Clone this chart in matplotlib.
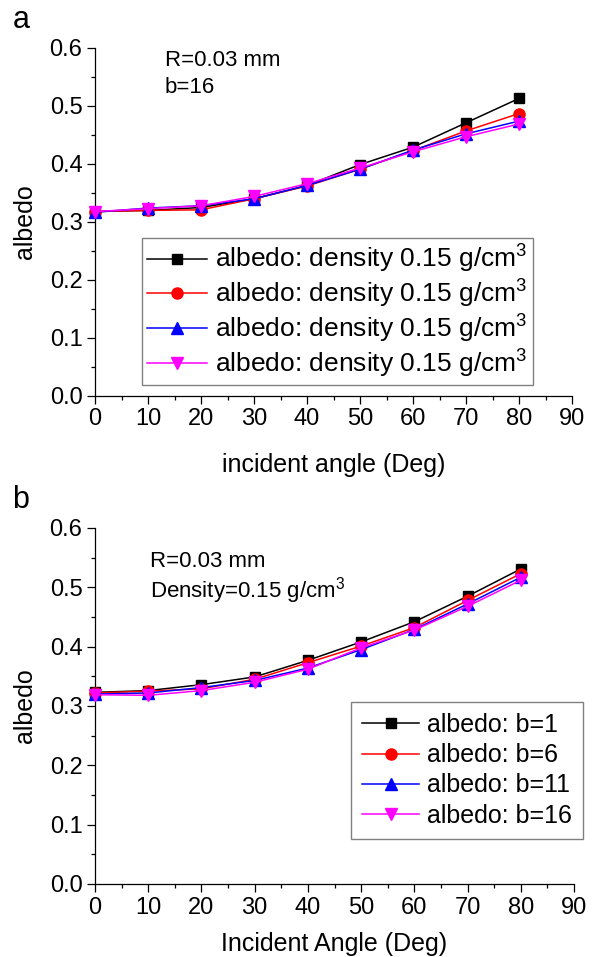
import numpy as np
import matplotlib
matplotlib.use("Agg")
import matplotlib.pyplot as plt
from matplotlib.ticker import MultipleLocator, FormatStrFormatter

plt.rcParams['font.family'] = ['Liberation Sans', 'DejaVu Sans']
plt.rcParams['mathtext.fontset'] = 'custom'
plt.rcParams['mathtext.rm'] = 'Liberation Sans'
plt.rcParams['mathtext.default'] = 'regular'

angles = [0, 10, 20, 30, 40, 50, 60, 70, 80]

# panel a: four runs, same density label
a_black = [0.318, 0.320, 0.325, 0.340, 0.363, 0.399, 0.429, 0.471, 0.513]
a_red = [0.318, 0.320, 0.321, 0.340, 0.362, 0.391, 0.423, 0.457, 0.487]
a_blue = [0.317, 0.324, 0.328, 0.340, 0.363, 0.391, 0.424, 0.452, 0.474]
a_magenta = [0.318, 0.323, 0.328, 0.344, 0.366, 0.393, 0.421, 0.447, 0.469]
a_labels = ['albedo: density 0.15 g/cm$^3$'] * 4

# panel b: different b values
b_b1 = [0.323, 0.326, 0.336, 0.349, 0.377, 0.408, 0.442, 0.485, 0.531]
b_b6 = [0.322, 0.325, 0.329, 0.345, 0.373, 0.401, 0.432, 0.478, 0.523]
b_b11 = [0.320, 0.322, 0.331, 0.343, 0.364, 0.395, 0.429, 0.472, 0.517]
b_b16 = [0.319, 0.318, 0.326, 0.340, 0.362, 0.398, 0.428, 0.468, 0.512]
b_labels = ['albedo: b=1', 'albedo: b=6', 'albedo: b=11', 'albedo: b=16']

colors = ['black', 'red', 'blue', 'magenta']
markers = ['s', 'o', '^', 'v']
msizes = [7.5, 8, 8.5, 8.5]

W, H = 601, 957
fig = plt.figure(figsize=(W / 100, H / 100), dpi=100)

def px_axes(l, t, r, b):
    return fig.add_axes([l / W, 1 - b / H, (r - l) / W, (b - t) / H])

def style(ax, xlabel, labelpad):
    ax.set_xlim(0, 90)
    ax.set_ylim(0, 0.6)
    ax.spines['top'].set_visible(False)
    ax.spines['right'].set_visible(False)
    for s in ['left', 'bottom']:
        ax.spines[s].set_linewidth(0.9)
    ax.xaxis.set_major_locator(MultipleLocator(10))
    ax.xaxis.set_minor_locator(MultipleLocator(5))
    ax.yaxis.set_major_locator(MultipleLocator(0.1))
    ax.yaxis.set_minor_locator(MultipleLocator(0.05))
    ax.yaxis.set_major_formatter(FormatStrFormatter('%.1f'))
    ax.tick_params(which='major', direction='out', length=5.5, width=0.9,
                   labelsize=17, pad=3.5)
    ax.tick_params(which='minor', direction='out', length=3.2, width=0.9)
    ax.set_xlabel(xlabel, fontsize=18, labelpad=labelpad)
    ax.set_ylabel('albedo', fontsize=18, labelpad=9)

def draw(ax, series, labels):
    for ys, c, m, ms, lab in zip(series, colors, markers, msizes, labels):
        ax.plot(angles, ys, color=c, marker=m, markersize=ms, linewidth=1.1,
                label=lab, clip_on=False, zorder=3)

def legend(ax, x, y, fsize, bpad, lspace):
    leg = ax.legend(loc='lower right', bbox_to_anchor=(x / W, 1 - y / H),
                    bbox_transform=fig.transFigure, fontsize=fsize, frameon=True,
                    fancybox=False, edgecolor='#808080', framealpha=1,
                    handlelength=2.3, handletextpad=0.3, labelspacing=lspace,
                    borderpad=bpad, borderaxespad=0)
    leg.get_frame().set_linewidth(1.0)
    return leg

# panel a
ax1 = px_axes(95, 48, 572, 396)
draw(ax1, [a_black, a_red, a_blue, a_magenta], a_labels)
style(ax1, 'incident angle (Deg)', 16)
legend(ax1, 533, 385, 19, 0.2, 0.1)
fig.text(165 / W, 1 - 66 / H, 'R=0.03 mm', fontsize=16, va='baseline')
fig.text(165 / W, 1 - 93 / H, 'b=16', fontsize=16, va='baseline')
fig.text(21 / W, 1 - 20 / H, 'a', fontsize=22, ha='center', va='center')

# panel b
ax2 = px_axes(95, 528, 574, 884)
draw(ax2, [b_b1, b_b6, b_b11, b_b16], b_labels)
style(ax2, 'Incident Angle (Deg)', 10)
legend(ax2, 583, 839, 18, 0.45, 0.25)
fig.text(150 / W, 1 - 567 / H, 'R=0.03 mm', fontsize=16, va='baseline')
fig.text(150 / W, 1 - 598 / H, 'Density=0.15 g/cm$^3$', fontsize=16, va='baseline')
fig.text(21 / W, 1 - 500 / H, 'b', fontsize=22, ha='center', va='center')

fig.savefig('out.png', dpi=100)
